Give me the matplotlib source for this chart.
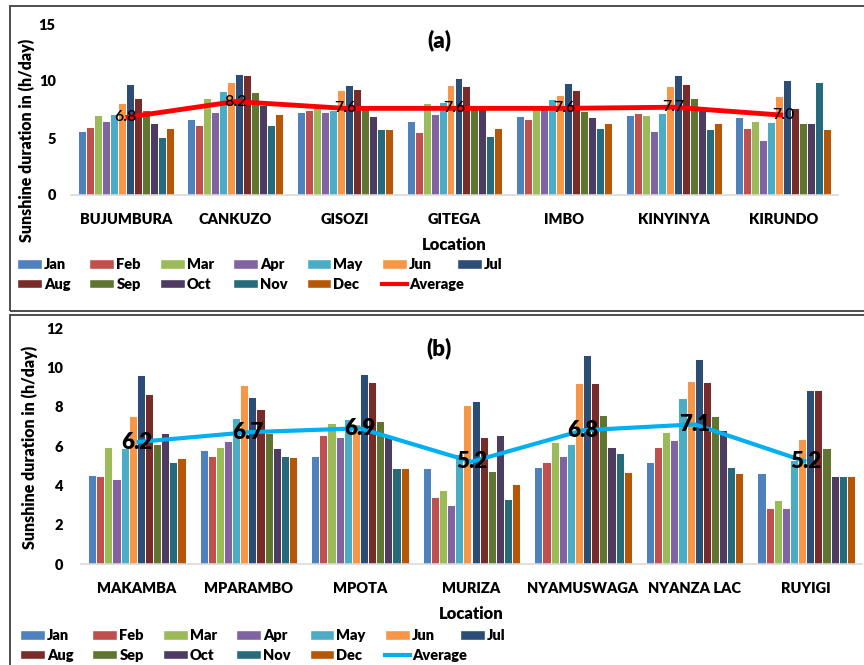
import matplotlib.pyplot as plt
import matplotlib.patches as mpatches
import matplotlib.lines as mlines
import numpy as np

plt.rcParams['font.family'] = ['Lato', 'DejaVu Sans']
plt.rcParams['font.weight'] = 'heavy'

# Data
months = ['Jan', 'Feb', 'Mar', 'Apr', 'May', 'Jun', 'Jul', 'Aug', 'Sep', 'Oct', 'Nov', 'Dec']
month_colors = ['#4F81BD', '#C0504D', '#9BBB59', '#8064A2', '#4BACC6', '#F79646',
                '#2C4D75', '#772C2A', '#5F7530', '#4D3B62', '#276A7C', '#B65708']

locs_a = ['BUJUMBURA', 'CANKUZO', 'GISOZI', 'GITEGA', 'IMBO', 'KINYINYA', 'KIRUNDO']
vals_a = [
    [5.6, 6.0, 7.0, 6.45, 7.1, 8.1, 9.7, 8.5, 7.45, 6.35, 5.05, 5.85],
    [6.7, 6.15, 8.5, 7.25, 9.15, 9.95, 10.6, 10.5, 9.0, 7.9, 6.15, 7.1],
    [7.3, 7.45, 7.6, 7.25, 7.45, 9.25, 9.65, 9.3, 7.5, 6.95, 5.8, 5.8],
    [6.45, 5.55, 8.05, 7.1, 8.15, 9.65, 10.3, 9.55, 7.5, 7.5, 5.2, 5.9],
    [6.95, 6.65, 7.6, 7.6, 8.4, 8.75, 9.8, 9.25, 7.35, 6.85, 5.85, 6.3],
    [7.0, 7.2, 7.0, 5.65, 7.15, 9.55, 10.5, 9.75, 8.5, 7.85, 5.75, 6.3],
    [6.85, 5.9, 6.5, 4.8, 6.4, 8.65, 10.1, 7.6, 6.3, 6.35, 9.95, 5.75],
]
avg_a = [6.8, 8.2, 7.6, 7.6, 7.6, 7.7, 7.0]

locs_b = ['MAKAMBA', 'MPARAMBO', 'MPOTA', 'MURIZA', 'NYAMUSWAGA', 'NYANZA LAC', 'RUYIGI']
vals_b = [
    [4.55, 4.5, 5.95, 4.3, 5.9, 7.55, 9.6, 8.65, 6.1, 6.65, 5.2, 5.4],
    [5.8, 5.5, 5.95, 6.25, 7.4, 9.1, 8.5, 7.9, 6.65, 5.9, 5.5, 5.45],
    [5.5, 6.55, 7.15, 6.45, 7.35, 7.1, 9.65, 9.25, 7.25, 6.55, 4.9, 4.9],
    [4.9, 3.4, 3.75, 3.0, 5.6, 8.1, 8.3, 6.45, 4.75, 6.55, 3.3, 4.05],
    [4.95, 5.2, 6.2, 5.5, 6.1, 9.2, 10.65, 9.2, 7.6, 5.95, 5.65, 4.7],
    [5.2, 5.95, 6.7, 6.3, 8.45, 9.3, 10.4, 9.25, 7.55, 6.8, 4.95, 4.65],
    [4.65, 2.85, 3.25, 2.85, 5.3, 6.35, 8.85, 8.85, 5.9, 4.5, 4.5, 4.5],
]
avg_b = [6.2, 6.7, 6.9, 5.2, 6.8, 7.1, 5.2]

W, H = 864, 665
fig = plt.figure(figsize=(W / 100, H / 100), dpi=100)


def fx(px):
    return px / W


def fy(py):
    return 1 - py / H


def panel(ax, locs, vals, avg, avg_color, ymax, ystep, lab_size, lab_weight, lw, tick_pad):
    n = len(months)
    group = 0.875
    bw = group / n
    x = np.arange(len(locs))
    vals = np.array(vals)
    for i in range(n):
        ax.bar(x - group / 2 + bw * (i + 0.5), vals[:, i], width=bw,
               color=month_colors[i], edgecolor='white', linewidth=0.7, zorder=2)
    ax.plot(x, avg, color=avg_color, lw=lw, zorder=3, solid_capstyle='butt')
    for xi, a in zip(x, avg):
        ax.text(xi, a, '%.1f' % a, ha='center', va='center', fontsize=lab_size,
                fontweight=lab_weight, color='black', zorder=4)
    ax.set_xlim(-0.5, len(locs) - 0.5)
    ax.set_ylim(0, ymax)
    ax.set_yticks(np.arange(0, ymax + 0.1, ystep))
    ax.set_xticks(x)
    ax.set_xticklabels(locs, fontsize=10.5, fontweight='heavy')
    ax.tick_params(axis='y', length=0, pad=tick_pad, labelsize=10.5)
    ax.tick_params(axis='x', length=0, pad=13)
    for s in ['top', 'right', 'left']:
        ax.spines[s].set_visible(False)
    ax.spines['bottom'].set_color('#D9D9D9')
    ax.spines['bottom'].set_linewidth(1.2)
    ax.set_xlabel('Location', fontsize=12, fontweight='heavy', labelpad=8)
    ax.set_facecolor('none')


# Panel (a)
ax_a = fig.add_axes([fx(71), fy(195), fx(838) - fx(71), fy(24) - fy(195)])
panel(ax_a, locs_a, vals_a, avg_a, '#FF0000', 15, 5, 11.5, 'semibold', 3.5, 11)
fig.text(fx(27), fy(140), 'Sunshine duration in (h/day)', rotation=90, ha='center',
         va='center', fontsize=11.5, fontweight='heavy')
fig.text(fx(439), fy(40), '(a)', ha='center', va='center', fontsize=16, fontweight='heavy')

# Panel (b)
ax_b = fig.add_axes([fx(81), fy(564), fx(862) - fx(81), fy(328) - fy(564)])
panel(ax_b, locs_b, vals_b, avg_b, '#00B0F0', 12, 2, 16, 'heavy', 3, 13)
fig.text(fx(30), fy(447), 'Sunshine duration in (h/day)', rotation=90, ha='center',
         va='center', fontsize=11.5, fontweight='heavy')
fig.text(fx(439), fy(348), '(b)', ha='center', va='center', fontsize=16, fontweight='heavy')


# Legends: matplotlib fills columns first, so reorder to read row by row.
# Jul sits in its own legend so the wide "Average" column does not push it right.
def make_legend(line_color, x0, y0):
    handles = [mpatches.Patch(facecolor=c, edgecolor='white') for c in month_colors]
    handles.append(mlines.Line2D([], [], color=line_color, lw=3))
    labels = months + ['Average']
    kw = dict(loc='upper left', frameon=False, fontsize=10.5, handlelength=1.7,
              handleheight=0.65, handletextpad=0.15, labelspacing=0.45,
              borderpad=0, borderaxespad=0)
    order = [0, 7, 1, 8, 2, 9, 3, 10, 4, 11, 5, 12]
    leg1 = fig.legend([handles[k] for k in order], [labels[k] for k in order],
                      ncol=6, bbox_to_anchor=(fx(x0), fy(y0)), columnspacing=1.3, **kw)
    leg2 = fig.legend([handles[6]], [labels[6]], ncol=1,
                      bbox_to_anchor=(fx(x0 + 440), fy(y0)), **kw)
    return leg1, leg2

make_legend('#FF0000', 17, 258)
make_legend('#00B0F0', 20, 629)

# Panel borders
fig.add_artist(mpatches.Rectangle((fx(10), fy(310.5)), fx(870) - fx(10), fy(6) - fy(310.5),
                                  transform=fig.transFigure, fill=False, edgecolor='#404040', lw=1.3))
fig.add_artist(mpatches.Rectangle((fx(10), fy(680)), fx(870) - fx(10), fy(314.5) - fy(680),
                                  transform=fig.transFigure, fill=False, edgecolor='#404040', lw=1.3))

fig.savefig('out.png', dpi=100)
